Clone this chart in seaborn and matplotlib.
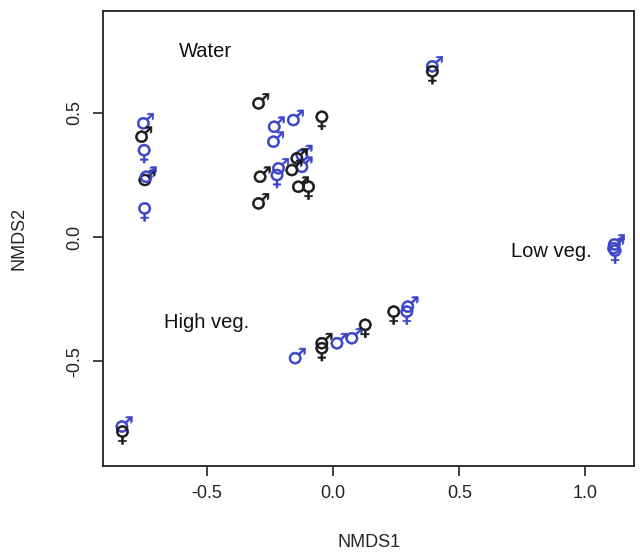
import matplotlib
matplotlib.use('Agg')
import matplotlib.pyplot as plt
import numpy as np
import pandas as pd
import seaborn as sns
from matplotlib.path import Path
from matplotlib.textpath import TextPath
from matplotlib.font_manager import FontProperties

# NMDS scores (centre of each symbol's ring)
nmds1 = [-0.753, -0.760, -0.750, -0.747, -0.742, -0.748,
         -0.296, -0.158, -0.045, -0.234, -0.237, -0.124, -0.144, -0.124,
         -0.164, -0.217, -0.223, -0.290, -0.138, -0.098, -0.296,
         0.393, 0.393,
         1.115, 1.118, 1.112,
         -0.838, -0.836,
         -0.151, -0.045, -0.045, 0.015, 0.074, 0.127, 0.240, 0.292, 0.296]
nmds2 = [0.457, 0.403, 0.349, 0.229, 0.242, 0.115,
         0.537, 0.470, 0.483, 0.443, 0.383, 0.329, 0.316, 0.282,
         0.269, 0.276, 0.249, 0.242, 0.202, 0.202, 0.135,
         0.686, 0.666,
         -0.030, -0.055, -0.045,
         -0.762, -0.782,
         -0.487, -0.447, -0.427, -0.427, -0.407, -0.353, -0.300, -0.300, -0.280]
sex = ['M', 'M', 'F', 'M', 'M', 'F',
       'M', 'M', 'F', 'M', 'M', 'M', 'M', 'M',
       'M', 'M', 'F', 'M', 'M', 'F', 'M',
       'M', 'F',
       'M', 'F', 'M',
       'M', 'F',
       'M', 'F', 'M', 'M', 'M', 'F', 'F', 'F', 'M']
group = ['b', 'k', 'b', 'k', 'b', 'b',
         'k', 'b', 'k', 'b', 'b', 'b', 'k', 'b',
         'k', 'b', 'b', 'k', 'k', 'k', 'k',
         'b', 'k',
         'b', 'b', 'b',
         'b', 'k',
         'b', 'k', 'k', 'b', 'b', 'k', 'k', 'b', 'b']

habitat_labels = ['Water', 'High veg.', 'Low veg.']
habitat_x = [-0.508, -0.503, 0.867]
habitat_y = [0.744, -0.345, -0.060]

df = pd.DataFrame({'NMDS1': nmds1, 'NMDS2': nmds2, 'sex': sex, 'group': group})


def glyph_marker(ch, ring_radius_px=6.2):
    # glyph outline centred on its ring, plus the marker area giving that ring radius
    tp = TextPath((0, 0), ch, size=10, prop=FontProperties(family='DejaVu Sans'))
    verts = tp.vertices.copy()
    codes = tp.codes.copy()
    start = 0
    for i, c in enumerate(codes):
        if c == Path.MOVETO:
            start = i
        elif c == Path.CLOSEPOLY:
            verts[i] = verts[start]
    xmin, ymin = verts[:, 0].min(), verts[:, 1].min()
    ymax = verts[:, 1].max()
    cy = verts[verts[:, 0] < xmin + 0.05, 1].mean()
    if ch == '\u2642':
        # ring sits at the bottom left
        cx = verts[verts[:, 1] < ymin + 0.05, 0].mean()
    else:
        # ring sits at the top
        cx = verts[verts[:, 1] > ymax - 0.05, 0].mean()
    r = cx - xmin
    verts = verts - [cx, cy]
    rescale = np.abs(verts).max()
    size_pt = ring_radius_px * 0.72 * 2 * rescale / r
    return Path(verts, codes), size_pt ** 2


male_path, male_s = glyph_marker('\u2642')
female_path, female_s = glyph_marker('\u2640')

sns.set_style('ticks')
plt.rcParams['font.family'] = ['Liberation Sans', 'DejaVu Sans']

fig = plt.figure(figsize=(6.4, 5.58), dpi=100)
ax = fig.add_axes([0.161, 0.165, 0.83, 0.815])

sns.scatterplot(data=df, x='NMDS1', y='NMDS2', hue='group', style='sex', size='sex',
                palette={'k': '#1a1a1a', 'b': '#3a44c8'},
                markers={'M': male_path, 'F': female_path},
                sizes={'M': male_s, 'F': female_s},
                linewidth=0.4, edgecolor='face', legend=False, ax=ax)

for lab, tx, ty in zip(habitat_labels, habitat_x, habitat_y):
    ax.text(tx, ty, lab, ha='center', va='center', fontsize=14.5, color='#111111')

ax.set_xlim(-0.913, 1.194)
ax.set_ylim(-0.92, 0.908)
ax.set_xticks([-0.5, 0.0, 0.5, 1.0])
ax.set_yticks([-0.5, 0.0, 0.5])
ax.set_xticklabels(['-0.5', '0.0', '0.5', '1.0'])
ax.set_yticklabels(['-0.5', '0.0', '0.5'], rotation=90, va='center')
ax.tick_params(length=7, width=1.2, labelsize=13, pad=7, colors='#222222')
for sp in ax.spines.values():
    sp.set_linewidth(1.3)
    sp.set_color('#222222')
ax.set_xlabel('NMDS1', fontsize=13, labelpad=23)
ax.set_ylabel('NMDS2', fontsize=13, labelpad=28)

fig.savefig('out.png', dpi=100)
